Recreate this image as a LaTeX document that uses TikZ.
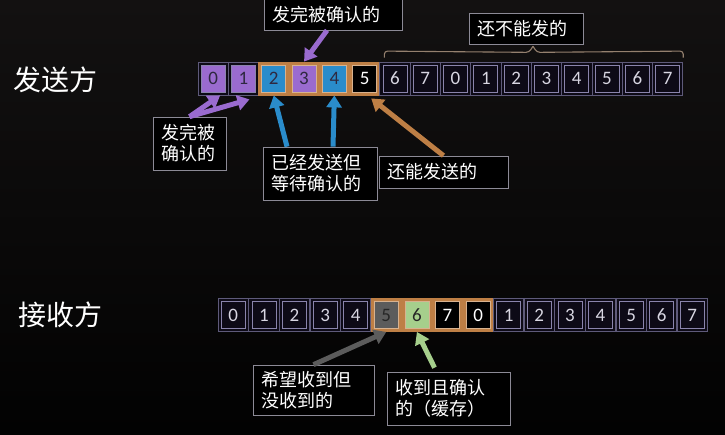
\documentclass[tikz,border=0pt]{standalone}
\usepackage{fontspec}
\setmainfont{Carlito}
\newfontfamily\cjk{Noto Sans CJK SC}
\usetikzlibrary{arrows.meta,calc}
\definecolor{bgtop}{HTML}{131111}
\definecolor{bgbot}{HTML}{020202}
\definecolor{cellfill}{HTML}{0D0A16}
\definecolor{cellout}{HTML}{5E5A7A}
\definecolor{cellin}{HTML}{8A84AC}
\definecolor{celltext}{HTML}{D8D6E2}
\definecolor{darktext}{HTML}{2E2840}
\definecolor{pur}{HTML}{9A6BCF}
\definecolor{blu}{HTML}{2A8CCB}
\definecolor{ora}{HTML}{BE7F45}
\definecolor{gry}{HTML}{5C5C5C}
\definecolor{grn}{HTML}{A6CF8C}
\definecolor{lblborder}{HTML}{8C8A96}
\definecolor{bracec}{HTML}{94806E}
\begin{document}
\begin{tikzpicture}[x=1pt,y=-1pt,
  outer/.style={line width=0.8pt, minimum width=30.3pt, minimum height=33pt, inner sep=0pt},
  inner/.style={line width=0.8pt, minimum width=24pt, minimum height=27pt, inner sep=0pt, font=\fontsize{19}{19}\selectfont},
  lbl/.style={draw=lblborder, fill=black, line width=0.7pt, text=white, font=\cjk\fontsize{18}{21}\selectfont, inner xsep=8pt, inner ysep=0pt, align=left},
  title/.style={text=white, font=\cjk\fontsize{28}{28}\selectfont},
  arr/.style={line width=5pt, -{Triangle[width=15pt,length=12pt]}},
  bracel/.style={draw=bracec, line width=1.1pt, rounded corners=3pt}]
\useasboundingbox (0,0) rectangle (725,434);
\fill[top color=bgtop, bottom color=bgbot] (0,0) rectangle (725,434);

% titles
\node[title] (send) at (55,80) {发送方};
\node[title] (recv) at (60,315) {接收方};

% sender cells
\foreach \i/\d/\of/\od/\inf/\ind/\tc in {
  0/0/cellfill/cellout/pur/cellin/darktext,
  1/1/cellfill/cellout/pur/cellin/darktext,
  2/2/ora/ora/blu/ora!60!white/darktext,
  3/3/ora/ora/pur/ora!60!white/darktext,
  4/4/ora/ora/blu/ora!60!white/darktext,
  5/5/ora/ora/black/ora!60!white/white,
  6/6/cellfill/cellout/cellfill/cellin/celltext,
  7/7/cellfill/cellout/cellfill/cellin/celltext,
  8/0/cellfill/cellout/cellfill/cellin/celltext,
  9/1/cellfill/cellout/cellfill/cellin/celltext,
  10/2/cellfill/cellout/cellfill/cellin/celltext,
  11/3/cellfill/cellout/cellfill/cellin/celltext,
  12/4/cellfill/cellout/cellfill/cellin/celltext,
  13/5/cellfill/cellout/cellfill/cellin/celltext,
  14/6/cellfill/cellout/cellfill/cellin/celltext,
  15/7/cellfill/cellout/cellfill/cellin/celltext}{
  \node[outer, fill=\of, draw=\od] (s\i) at ({198+30.3*\i+15.15},78.5) {};
  \node[inner, fill=\inf, draw=\ind, text=\tc] (si\i) at (s\i) {\d};
}

% receiver cells
\foreach \i/\d/\of/\od/\inf/\ind/\tc in {
  0/0/cellfill/cellout/cellfill/cellin/celltext,
  1/1/cellfill/cellout/cellfill/cellin/celltext,
  2/2/cellfill/cellout/cellfill/cellin/celltext,
  3/3/cellfill/cellout/cellfill/cellin/celltext,
  4/4/cellfill/cellout/cellfill/cellin/celltext,
  5/5/ora/ora/gry/ora!60!white/black!85,
  6/6/ora/ora/grn/ora!60!white/black!85,
  7/7/ora/ora/black/ora!60!white/white,
  8/0/ora/ora/black/ora!60!white/white,
  9/1/cellfill/cellout/cellfill/cellin/celltext,
  10/2/cellfill/cellout/cellfill/cellin/celltext,
  11/3/cellfill/cellout/cellfill/cellin/celltext,
  12/4/cellfill/cellout/cellfill/cellin/celltext,
  13/5/cellfill/cellout/cellfill/cellin/celltext,
  14/6/cellfill/cellout/cellfill/cellin/celltext,
  15/7/cellfill/cellout/cellfill/cellin/celltext}{
  \node[outer, fill=\of, draw=\od] (r\i) at ({218+30.6*\i+15.3},315) {};
  \node[inner, fill=\inf, draw=\ind, text=\tc] (ri\i) at (r\i) {\d};
}

% label boxes
\node[lbl, text width=122pt, minimum height=31pt] (tb) at (333,14.5) {发完被确认的};
\node[lbl, text width=98pt, minimum height=31pt] (tn) at (526,28.5) {还不能发的};
\node[lbl, text width=57pt, minimum height=53pt] (lb1) at (189.5,143.5) {发完被\\确认的};
\node[lbl, text width=98pt, minimum height=53pt] (lb2) at (320,173.5) {已经发送但\\等待确认的};
\node[lbl, text width=113pt, minimum height=32pt] (lb3) at (443.5,172) {还能发送的};
\node[lbl, text width=105pt, minimum height=50pt] (lb4) at (313.5,390) {希望收到但\\没收到的};
\node[lbl, text width=107pt, minimum height=53pt] (lb5) at (448.5,398.5) {收到且确认\\的（缓存）};

% brace over "还不能发的"
\coordinate (bl) at ($(s6.north west)+(5,-4)$);
\coordinate (br) at ($(s15.north east)+(0,-4)$);
\coordinate (bt) at ($(tn.south)+(7,2)$);
\draw[bracel] (bl) -- ($(bl)+(0,-6.5)$) -- ($(bt)+(-4,6)$) -- (bt);
\draw[bracel] (bt) -- ($(bt)+(4,6)$) -- ($(br)+(0,-6.5)$) -- (br);

% arrows
\draw[arr, draw=pur] ($(tb.south)+(-6,0)$) -- (s3.north);
\draw[arr, draw=pur] (lb1.north) -- ($(s0.south)+(7,0)$);
\draw[arr, draw=pur] (lb1.north) -- ($(s1.south)+(6,4)$);
\draw[arr, draw=blu] ($(lb2.north)+(-33,0)$) -- (s2.south);
\draw[arr, draw=blu] ($(lb2.north)+(13,0)$) -- (s4.south);
\draw[arr, draw=ora] (lb3.north) -- ($(s5.south east)+(-9,3)$);
\draw[arr, draw=gry] (lb4.north) -- (r5.south);
\draw[arr, draw=grn] ($(lb5.north)+(-14,-4)$) -- (r6.south);
\end{tikzpicture}
\end{document}
